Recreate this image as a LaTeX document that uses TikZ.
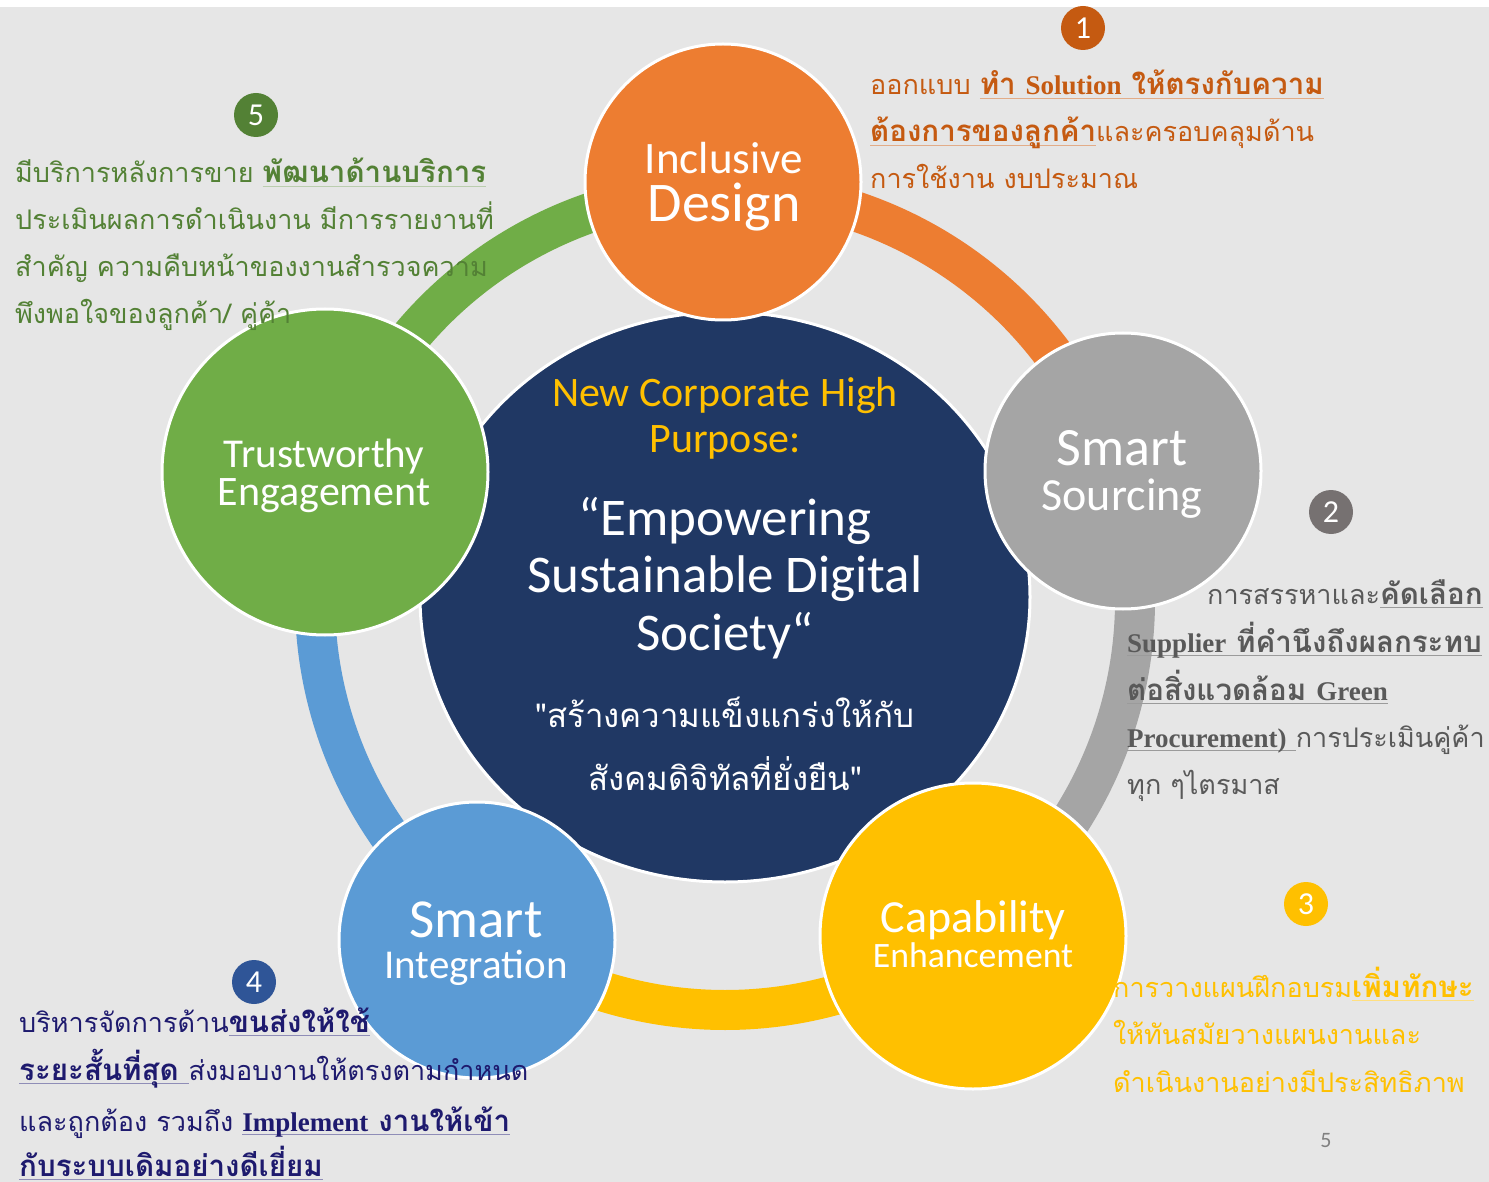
\documentclass[tikz,border=0pt]{standalone}
\usepackage{fontspec}
\setmainfont{Carlito}
\newfontfamily\thaif[Script=Thai]{Loma}
\newfontfamily\serb{Liberation Serif}
\definecolor{bgc}{HTML}{E6E6E6}
\definecolor{corange}{HTML}{ED7D31}
\definecolor{cgray}{HTML}{A5A5A5}
\definecolor{cyellow}{HTML}{FFC000}
\definecolor{cblue}{HTML}{5B9BD5}
\definecolor{cgreen}{HTML}{70AD47}
\definecolor{cnavy}{HTML}{203864}
\definecolor{tone}{HTML}{C55A11}
\definecolor{ttwo}{HTML}{595959}
\definecolor{bgtwo}{HTML}{767171}
\definecolor{tfour}{HTML}{1E1A6E}
\definecolor{bfour}{HTML}{2F5597}
\definecolor{tfive}{HTML}{538135}
\newcommand\ulin[2]{\setbox0=\hbox{#2}\rlap{\color{#1}\rule[-4pt]{\wd0}{1.2pt}}\box0}
\newcommand\thbf{\thaif\bfseries\fontsize{29.5}{27}\selectfont}
\newcommand\serbf{\serb\bfseries\fontsize{27}{27}\selectfont}
\tikzset{
  bubble/.style={circle, draw=white, line width=3pt, inner sep=0pt},
  ringarc/.style={line width=40pt},
  badge/.style={circle, minimum size=44pt, inner sep=0pt, text=white, font=\fontsize{32}{32}\selectfont},
  lbl/.style={anchor=base, inner sep=0pt, text=white},
  para/.style={anchor=base west, inner sep=0pt, font=\thaif\fontsize{27}{27}\selectfont},
}
\begin{document}
\begin{tikzpicture}[x=1pt,y=1pt]
\useasboundingbox (0,0) rectangle (1489,-1182);
\fill[white] (0,0) rectangle (1489,-1182);
\fill[bgc] (0,-7) rectangle (1489,-1182);
\coordinate (C) at (725,-600);
% ring arcs
\draw[ringarc, corange] (C) ++(90:410pt) arc[start angle=90, end angle=18, radius=410pt];
\draw[ringarc, cgray] (C) ++(18:410pt) arc[start angle=18, end angle=-54, radius=410pt];
\draw[ringarc, cyellow] (C) ++(-54:410pt) arc[start angle=-54, end angle=-126, radius=410pt];
\draw[ringarc, cblue] (C) ++(-126:410pt) arc[start angle=-126, end angle=-198, radius=410pt];
\draw[ringarc, cgreen] (C) ++(162:410pt) arc[start angle=162, end angle=90, radius=410pt];
% center
\draw[fill=cnavy, draw=white, line width=3pt] (725,-597) ellipse [x radius=305pt, y radius=285pt];
% bubbles
\node[bubble, fill=corange, minimum size=276pt] (id) at (723,-182) {};
\node[bubble, fill=cgray, minimum size=276pt] (ss) at (1123,-471) {};
\node[bubble, fill=cyellow, minimum size=306pt] (ce) at (973,-936) {};
\node[bubble, fill=cblue, minimum size=276pt] (si) at (477,-940) {};
\node[bubble, fill=cgreen, minimum size=326pt] (te) at (325,-472) {};
% bubble labels
\node[lbl, font=\fontsize{45}{45}\selectfont] (id1) at (724,-174) {Inclusive};
\node[lbl, font=\fontsize{56}{56}\selectfont] (id2) at (724,-222) {Design};
\node[lbl, font=\fontsize{54}{54}\selectfont] (ss1) at (1122,-465) {Smart};
\node[lbl, font=\fontsize{46}{46}\selectfont] (ss2) at (1122,-510) {Sourcing};
\node[lbl, font=\fontsize{41}{41}\selectfont] (te1) at (324,-467) {Trustworthy};
\node[lbl, font=\fontsize{42}{42}\selectfont] (te2) at (324,-505) {Engagement};
\node[lbl, font=\fontsize{55}{55}\selectfont] (si1) at (476,-937) {Smart};
\node[lbl, font=\fontsize{41}{41}\selectfont] (si2) at (476,-978) {Integration};
\node[lbl, font=\fontsize{46}{46}\selectfont] (ce1) at (973,-932) {Capability};
\node[lbl, font=\fontsize{35.7}{35.7}\selectfont] (ce2) at (973,-967) {Enhancement};
% center text
\node[lbl, text=cyellow, font=\fontsize{42}{42}\selectfont] (ct1) at (725,-406) {New Corporate High};
\node[lbl, text=cyellow, font=\fontsize{42}{42}\selectfont] (ct2) at (725,-452) {Purpose:};
\node[lbl, font=\fontsize{53}{53}\selectfont] (ct3) at (725,-535) {“Empowering};
\node[lbl, font=\fontsize{53}{53}\selectfont] (ct4) at (725,-592) {Sustainable Digital};
\node[lbl, font=\fontsize{53}{53}\selectfont] (ct5) at (725,-650) {Society“};
\node[lbl, font=\thaif\fontsize{33}{33}\selectfont] (ct6) at (725,-727) {"สร้างความแข็งแกร่งให้กับ};
\node[lbl, font=\thaif\fontsize{33}{33}\selectfont] (ct7) at (725,-790) {สังคมดิจิทัลที่ยั่งยืน"};
% badges
\node[badge, fill=tone] (b1) at (1083,-28) {1};
\node[badge, fill=bgtwo] (b2) at (1331,-512) {2};
\node[badge, fill=cyellow] (b3) at (1306,-904) {3};
\node[badge, fill=bfour] (b4) at (254,-982) {4};
\node[badge, fill=tfive] (b5) at (256,-115) {5};
% paragraph 1
\node[para, text=tone] (p1a) at (870,-95) {ออกแบบ \ulin{tone!50}{{\thbf ทำ }{\serbf Solution}{\thbf ~ให้ตรงกับความ}}};
\node[para, text=tone] (p1b) at (870,-142) {\ulin{tone!50}{\thbf ต้องการของลูกค้า}และครอบคลุมด้าน};
\node[para, text=tone] (p1c) at (870,-189) {การใช้งาน งบประมาณ};
% paragraph 2
\node[para, text=ttwo] (p2a) at (1207,-604) {การสรรหาและ\ulin{ttwo!60}{\thbf คัดเลือก}};
\node[para, text=ttwo] (p2b) at (1127,-652) {\ulin{ttwo!60}{{\serbf Supplier}{\thbf ~ที่คำนึงถึงผลกระทบ}}};
\node[para, text=ttwo] (p2c) at (1127,-700) {\ulin{ttwo!60}{{\thbf ต่อสิ่งแวดล้อม }{\serbf Green}}};
\node[para, text=ttwo] (p2d) at (1127,-747) {\ulin{ttwo!60}{{\serbf Procurement)}~}การประเมินคู่ค้า};
\node[para, text=ttwo] (p2e) at (1127,-794) {ทุก ๆไตรมาส};
% paragraph 3
\node[para, text=cyellow] (p3a) at (1113,-997) {การวางแผนฝึกอบรม\ulin{cyellow!50}{\thbf เพิ่มทักษะ}};
\node[para, text=cyellow] (p3b) at (1113,-1044) {ให้ทันสมัยวางแผนงานและ};
\node[para, text=cyellow] (p3c) at (1113,-1092) {ดำเนินงานอย่างมีประสิทธิภาพ};
% paragraph 4
\node[para, text=tfour] (p4a) at (19,-1032) {บริหารจัดการด้าน\ulin{tfour!50}{\thbf ขนส่งให้ใช้}};
\node[para, text=tfour] (p4b) at (19,-1080) {\ulin{tfour!50}{\thbf ระยะสั้นที่สุด~}ส่งมอบงานให้ตรงตามกำหนด};
\node[para, text=tfour] (p4c) at (19,-1131) {และถูกต้อง รวมถึง \ulin{tfour!50}{{\serbf Implement}{\thbf ~งานให้เข้า}}};
\node[para, text=tfour] (p4d) at (19,-1176) {\ulin{tfour!50}{\thbf กับระบบเดิมอย่างดีเยี่ยม}};
% paragraph 5
\node[para, text=tfive] (p5a) at (15,-183) {มีบริการหลังการขาย \ulin{tfive!40}{\thbf พัฒนาด้านบริการ}};
\node[para, text=tfive] (p5b) at (15,-230) {ประเมินผลการดำเนินงาน มีการรายงานที่};
\node[para, text=tfive] (p5c) at (15,-277) {สำคัญ ความคืบหน้าของงานสำรวจความ};
\node[para, text=tfive] (p5d) at (15,-324) {พึงพอใจของลูกค้า/ คู่ค้า};
% page number
\node[inner sep=0pt, text=gray, font=\fontsize{22}{22}\selectfont] (pg) at (1326,-1141) {5};
\end{tikzpicture}
\end{document}
